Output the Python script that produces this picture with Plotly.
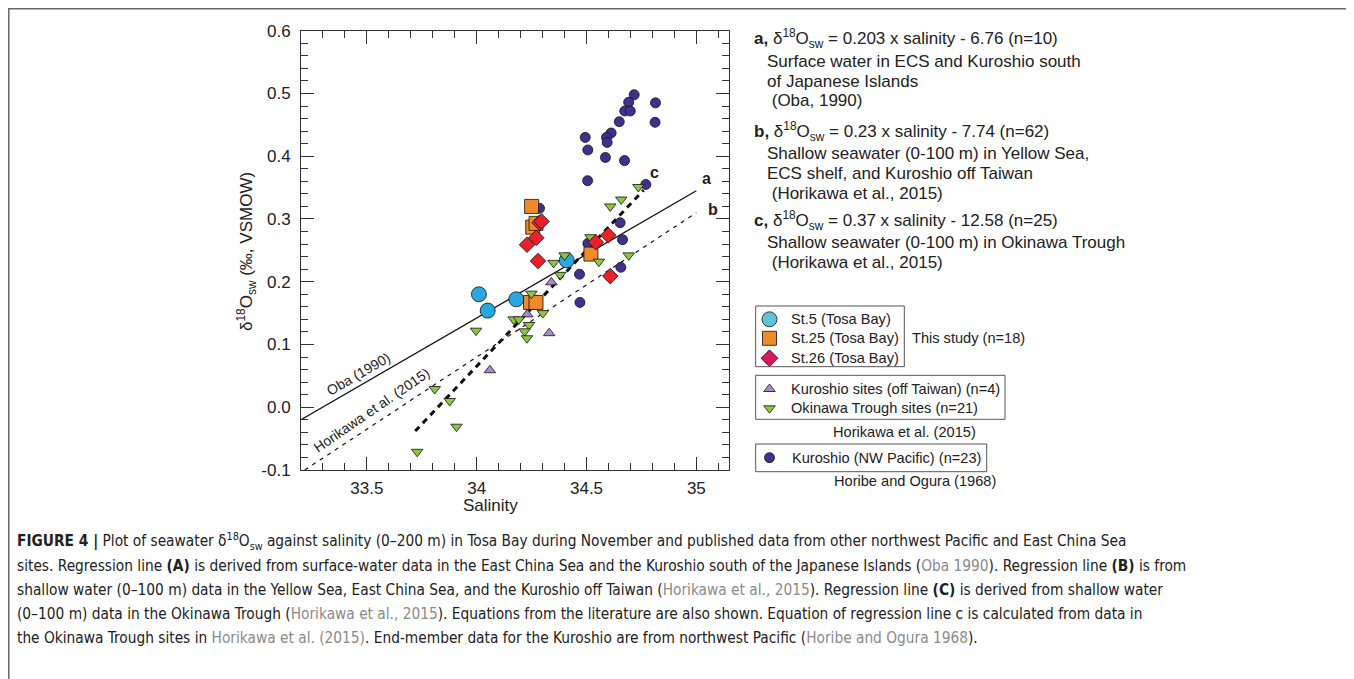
import plotly.graph_objects as go

# ---------------- data ----------------
st5_sal = [34.01, 34.05, 34.18, 34.41]
st5_d18 = [0.180, 0.154, 0.172, 0.234]

st25_sal = [34.25, 34.255, 34.27, 34.52, 34.245, 34.27]
st25_d18 = [0.320, 0.287, 0.293, 0.244, 0.167, 0.167]

st26_sal = [34.286, 34.295, 34.271, 34.229, 34.279, 34.599, 34.542, 34.608]
st26_d18 = [0.294, 0.296, 0.270, 0.259, 0.233, 0.274, 0.263, 0.209]

kuro_tw_sal = [34.34, 34.23, 34.33, 34.06]
kuro_tw_d18 = [0.199, 0.148, 0.118, 0.059]

okinawa_sal = [34.400, 34.350, 34.556, 34.692, 34.380, 34.249, 34.301, 34.168, 34.192,
               34.238, 34.218, 34.229, 33.997, 33.809, 33.877, 33.908, 33.729, 34.736,
               34.658, 34.608, 34.518]
okinawa_d18 = [0.242, 0.230, 0.232, 0.242, 0.211, 0.181, 0.150, 0.140, 0.140,
               0.131, 0.121, 0.110, 0.122, 0.029, 0.010, -0.031, -0.071, 0.351,
               0.331, 0.320, 0.271]

nwpac_sal = [34.717, 34.692, 34.814, 34.674, 34.699, 34.649, 34.812, 34.494, 34.612,
             34.591, 34.594, 34.506, 34.586, 34.673, 34.505, 34.770, 34.286, 34.653,
             34.664, 34.506, 34.468, 34.656, 34.470]
nwpac_d18 = [0.498, 0.486, 0.485, 0.472, 0.472, 0.455, 0.454, 0.430, 0.437,
             0.430, 0.422, 0.410, 0.398, 0.393, 0.361, 0.355, 0.317, 0.294,
             0.267, 0.261, 0.212, 0.223, 0.167]

line_a_sal = [33.2, 35.0]
line_a_d18 = [-0.020, 0.345]
line_b_sal = [33.217, 35.0]
line_b_d18 = [-0.100, 0.310]
line_c_sal = [33.72, 34.76]
line_c_d18 = [-0.038, 0.346]

x_ticks = [33.5, 34, 34.5, 35]
x_ticktext = ["33.5", "34", "34.5", "35"]
y_ticks = [-0.1, 0.0, 0.1, 0.2, 0.3, 0.4, 0.5, 0.6]
y_ticktext = ["-0.1", "0.0", "0.1", "0.2", "0.3", "0.4", "0.5", "0.6"]

# ---------------- layout helpers ----------------
W, H = 1354, 679
OFF = 8  # page body margin
FONT = "Liberation Sans, Arial, sans-serif"
CAPFONT = "DejaVu Sans Condensed, sans-serif"
px_l, px_r, px_t, px_b = 301, 729.3, 30.7, 470   # screen pixels of plot frame

fig = go.Figure()

ol = dict(color="#111", width=0.8)

# regression lines
fig.add_trace(go.Scatter(x=line_a_sal, y=line_a_d18, mode="lines",
                         line=dict(color="#111", width=1.3), showlegend=False))
fig.add_trace(go.Scatter(x=line_b_sal, y=line_b_d18, mode="lines",
                         line=dict(color="#111", width=1.2, dash="4px,5px"), showlegend=False))
fig.add_trace(go.Scatter(x=line_c_sal, y=line_c_d18, mode="lines",
                         line=dict(color="#111", width=3, dash="6px,5px"), showlegend=False))

# points
fig.add_trace(go.Scatter(x=nwpac_sal, y=nwpac_d18, mode="markers", showlegend=False,
                         marker=dict(symbol="circle", size=10, color="#41318f", line=ol)))
fig.add_trace(go.Scatter(x=st5_sal, y=st5_d18, mode="markers", showlegend=False,
                         marker=dict(symbol="circle", size=15, color="#2aa7df", line=ol)))
fig.add_trace(go.Scatter(x=kuro_tw_sal, y=kuro_tw_d18, mode="markers", showlegend=False,
                         marker=dict(symbol="triangle-up", size=10, color="#a98bc7", line=ol)))
fig.add_trace(go.Scatter(x=st25_sal, y=st25_d18, mode="markers", showlegend=False,
                         marker=dict(symbol="square", size=14, color="#f08a2a", line=ol)))
fig.add_trace(go.Scatter(x=okinawa_sal, y=okinawa_d18, mode="markers", showlegend=False,
                         marker=dict(symbol="triangle-down", size=10, color="#8dc63f", line=ol)))
fig.add_trace(go.Scatter(x=st26_sal, y=st26_d18, mode="markers", showlegend=False,
                         marker=dict(symbol="diamond", size=12, color="#e8202a", line=ol)))

# legend glyphs on an overlay pixel axis (screen coordinates)
leg_x = [769.5, 769.5, 769.5, 769.5, 769.5, 769.5]
leg_y = [319.3, 338.3, 358.3, 389, 408.3, 457.7]
leg_sym = ["circle", "square", "diamond", "triangle-up", "triangle-down", "circle"]
leg_col = ["#5fc3d6", "#f08a2a", "#d81b60", "#a98bc7", "#8dc63f", "#41318f"]
leg_size = [15, 14, 13, 10, 10, 10]
for xx, yy, s, c, sz in zip(leg_x, leg_y, leg_sym, leg_col, leg_size):
    fig.add_trace(go.Scatter(x=[xx], y=[yy], xaxis="x2", yaxis="y2", mode="markers",
                             showlegend=False,
                             marker=dict(symbol=s, size=sz, color=c, line=ol)))

shapes = []
# outer frame
shapes.append(dict(type="path", xref="x2", yref="y2",
                   path="M 8.8,700 L 8.8,8.8 L 1352.5,8.8 L 1352.5,700",
                   line=dict(color="#666", width=1.5)))
# legend boxes
for x0, y0, x1, y1 in [(755.7, 306, 904.3, 366.7), (755.7, 375.3, 1005, 419.3),
                       (755.7, 444, 986.7, 471.7)]:
    shapes.append(dict(type="rect", xref="x2", yref="y2", x0=x0, y0=y0, x1=x1, y1=y1,
                       line=dict(color="#555", width=1)))

ann = []
def T(text, x, y, size=15, xanchor="left", font=FONT, color="#222", angle=0, yanchor="middle"):
    ann.append(dict(text=text, x=x, y=y, xref="x2", yref="y2", showarrow=False,
                    xanchor=xanchor, yanchor=yanchor, textangle=angle,
                    font=dict(family=font, size=size, color=color)))

# legend text
LS = 14.6
T("St.5 (Tosa Bay)", 789, 319.3, LS)
T("St.25 (Tosa Bay)", 789, 338.3, LS)
T("St.26 (Tosa Bay)", 789, 358.3, LS)
T("This study (n=18)", 910, 338.3, LS)
T("Kuroshio sites (off Taiwan) (n=4)", 789, 389, LS)
T("Okinawa Trough sites (n=21)", 789, 408.3, LS)
T("Horikawa et al. (2015)", 904.7, 431.7, LS, xanchor="center")
T("Kuroshio (NW Pacific) (n=23)", 790, 457.7, LS)
T("Horibe and Ogura (1968)", 915, 481, LS, xanchor="center")

# equations block
ES = 17
SUB = "δ<sup>18</sup>O<sub>sw</sub>"
T("<b>a,</b> " + SUB + " = 0.203 x salinity - 6.76 (n=10)", 752, 38, ES)
T("Surface water in ECS and Kuroshio south", 765, 61, ES)
T("of Japanese Islands", 765, 81, ES)
T(" (Oba, 1990)", 765, 100.5, ES)
T("<b>b,</b> " + SUB + " = 0.23 x salinity - 7.74 (n=62)", 752, 131, ES)
T("Shallow seawater (0-100 m) in Yellow Sea,", 765, 153.5, ES)
T("ECS shelf, and Kuroshio off Taiwan", 765, 173, ES)
T(" (Horikawa et al., 2015)", 765, 193, ES)
T("<b>c,</b> " + SUB + " = 0.37 x salinity - 12.58 (n=25)", 752, 220, ES)
T("Shallow seawater (0-100 m) in Okinawa Trough", 765, 242, ES)
T(" (Horikawa et al., 2015)", 765, 262, ES)

# line labels
T("<b>a</b>", 706, 178, 16, xanchor="center")
T("<b>b</b>", 712.7, 209, 16, xanchor="center")
T("<b>c</b>", 654.3, 172.3, 16, xanchor="center")
T("Oba (1990)", 358.3, 374, 14, xanchor="center", angle=-30)
T("Horikawa et al. (2015)", 371.7, 410, 14, xanchor="center", angle=-34.5)

# axis titles
T("Salinity", 490, 505, 17, xanchor="center")
T("δ<sup>18</sup>O<sub>sw</sub> (‰, VSMOW)", 246, 252, 17, xanchor="center", angle=-90)

# caption
G = "<span style='color:#8a8a8a'>%s</span>"
cap = [
    "<b>FIGURE 4 |</b> Plot of seawater δ<sup>18</sup>O<sub>sw</sub> against salinity (0–200 m) in Tosa Bay during November and published data from other northwest Pacific and East China Sea",
    "sites. Regression line <b>(A)</b> is derived from surface-water data in the East China Sea and the Kuroshio south of the Japanese Islands (" + G % "Oba 1990" + "). Regression line <b>(B)</b> is from",
    "shallow water (0–100 m) data in the Yellow Sea, East China Sea, and the Kuroshio off Taiwan (" + G % "Horikawa et al., 2015" + "). Regression line <b>(C)</b> is derived from shallow water",
    "(0–100 m) data in the Okinawa Trough (" + G % "Horikawa et al., 2015" + "). Equations from the literature are also shown. Equation of regression line c is calculated from data in",
    "the Okinawa Trough sites in " + G % "Horikawa et al. (2015)" + ". End-member data for the Kuroshio are from northwest Pacific (" + G % "Horibe and Ogura 1968" + ").",
]
cap_y = [541, 566, 590, 614, 638]
for t, yy in zip(cap, cap_y):
    T(t, 15, yy, 15.3, font=CAPFONT, color="#222")

axis_common = dict(showline=True, linecolor="#333", linewidth=1, mirror="ticks",
                   ticks="inside", tickcolor="#333", showgrid=False, zeroline=False,
                   automargin=False,
                   tickfont=dict(family=FONT, size=17, color="#222"))

fig.update_layout(
    width=W, height=H, margin=dict(l=0, r=0, t=0, b=0, pad=0),
    paper_bgcolor="white", plot_bgcolor="rgba(0,0,0,0)",
    showlegend=False,
    xaxis=dict(domain=[(px_l - OFF) / W, (px_r - OFF) / W], range=[33.2, 35.15],
               tickvals=x_ticks, ticktext=x_ticktext, ticklen=13, tickwidth=1,
               ticklabelstandoff=3,
               minor=dict(dtick=0.1, tick0=33.2, ticklen=7, ticks="inside", tickcolor="#333"),
               anchor="y", **axis_common),
    yaxis=dict(domain=[1 - (px_b - OFF) / H, 1 - (px_t - OFF) / H], range=[-0.1, 0.6],
               tickvals=y_ticks, ticktext=y_ticktext, ticklen=13, tickwidth=1,
               ticklabelstandoff=6,
               minor=dict(dtick=0.02, tick0=0, ticklen=7, ticks="inside", tickcolor="#333"),
               anchor="x", **axis_common),
    xaxis2=dict(domain=[0, 1], range=[OFF, W + OFF], visible=False, anchor="y2",
                fixedrange=True, automargin=False),
    yaxis2=dict(domain=[0, 1], range=[H + OFF, OFF], visible=False, anchor="x2",
                fixedrange=True, automargin=False),
    shapes=shapes, annotations=ann,
)

fig.write_html("out.html")
